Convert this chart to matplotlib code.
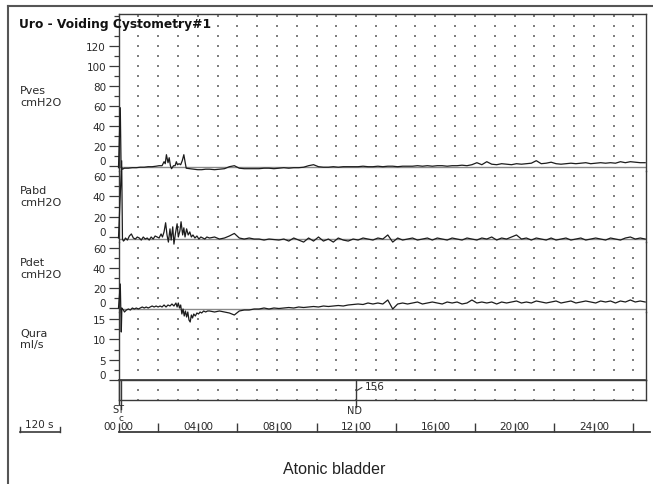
import matplotlib
matplotlib.use("Agg")
import matplotlib.pyplot as plt
import numpy as np
from matplotlib.lines import Line2D

# ---------------- data ----------------
title = "Uro - Voiding Cystometry#1"
caption = "Atonic bladder"
channel_names = ["Pves", "Pabd", "Pdet", "Qura"]
channel_units = ["cmH2O", "cmH2O", "cmH2O", "ml/s"]

pves_ticks = [0, 20, 40, 60, 80, 100, 120]
pabd_ticks = [0, 20, 40, 60]
pdet_ticks = [0, 20, 40, 60]
qura_ticks = [0, 5, 10, 15]

time_labels = ["00:00", "04:00", "08:00", "12:00", "16:00", "20:00", "24:00"]
time_label_minutes = [0, 4, 8, 12, 16, 20, 24]

# Pves (cmH2O), early part (explicit times, minutes)
pves_t_early = [0.00, 0.09, 0.13, 0.2, 0.3, 0.5, 0.7, 0.9, 1.1, 1.3, 1.5, 1.7, 1.9,
                2.05, 2.2, 2.3, 2.36, 2.42, 2.5, 2.56, 2.62, 2.68, 2.78, 2.86, 2.92,
                2.98, 3.06, 3.14, 3.22, 3.3, 3.36, 3.42, 3.6, 3.8, 4.0, 4.2, 4.4]
pves_v_early = [-2, 58, -1, -3.5, -2.5, -2.5, -2, -2, -1.5, -1.5, -1, -1, -0.5,
                0, 0, 4, 2, 11, 3, 8, 0, -3, 0, 0, 4,
                1, 2, 1, 5, 11, 4, -2.5, -3, -3.5, -4, -4, -3.5]
# Pves late part (every 0.25 min from 4.6 to 26.6)
pves_v_late = [-3.5, -4, -3.5, -3, -1, 0, -2.5, -3, -3, -3,
               -3, -2.5, -2.5, -3, -2.5, -2, -2.5, -2, -2, -1.5,
               0, 1, -1, -1.5, -1.5, -1, -1.5, -1, -1, -1,
               -1, -0.5, -1, -1, -0.5, -1, -0.5, -0.5, -1, -0.5,
               -0.5, -0.5, 0, -0.5, 0, -0.5, 0, 0, -0.5, 0,
               0, 0.5, 0, 1, 3, 1, 4, 1.5, 1, 2,
               1.5, 1, 2, 1.5, 2, 2.5, 5, 2, 2.5, 3.5,
               2, 1.5, 2, 2.5, 2, 2.5, 3, 2, 2.5, 3,
               2.5, 3, 2.5, 4, 3, 4, 3.5, 3, 3]

# Pabd (cmH2O)
pabd_t_early = [0.00, 0.16, 0.2, 0.25, 0.3, 0.35, 0.45, 0.55, 0.65, 0.75, 0.85, 0.95,
                1.05, 1.15, 1.25, 1.35, 1.45, 1.55, 1.65, 1.75, 1.85, 1.95, 2.05, 2.15,
                2.22, 2.3, 2.38, 2.45, 2.52, 2.6, 2.66, 2.74, 2.8, 2.88, 2.96, 3.02,
                3.1, 3.16, 3.24, 3.3, 3.36, 3.44, 3.52, 3.6, 3.68, 3.76, 3.86, 3.96,
                4.06, 4.16, 4.26, 4.36, 4.46]
pabd_v_early = [-1, 75, -2, -4, -3, -1, -3, 1, 3, -1, -2, 0,
                -1, -3, 0, -2, -1, -3, 0, -2, 1, 0, -1, 3,
                0, 5, 14, 2, -5, 8, -3, 10, -7, 4, 13, 0,
                6, 15, 2, 9, 0, 8, 2, 5, 0, 2, -1, 1,
                -2, 0, -1, -2, 0]
pabd_v_late = [-1, 0, -2, -1, 1, 3.5, -1, -2, -1, -2,
               -2, -3, -2, -2.5, -3, -2, -4, -1, -3, -5,
               -1, -4, 0, -4, -2, -5, -1, -3, -4, -2,
               -3, -1, -2, -3, -1, -2, 2, -5, -1, -3,
               -2, -1, -3, -2, -1, -3, -1, -2, -3, -1,
               -2, -3, -1, -2, -3, -1, -2, 0, -3, -1,
               -2, 0, 2, -2, -1, -3, -1, -2, -3, -1,
               -3, -2, -1, -3, -2, -1, -3, -2, -1, -2,
               -3, -1, -2, -3, -1, 0, -2, -1, -2]

# Pdet (cmH2O)
pdet_t_early = [0.00, 0.09, 0.14, 0.17, 0.2, 0.25, 0.3, 0.4, 0.5, 0.6, 0.7, 0.8, 0.9,
                1.0, 1.1, 1.2, 1.3, 1.4, 1.5, 1.6, 1.7, 1.8, 1.9, 2.0, 2.1, 2.2, 2.3,
                2.4, 2.5, 2.6, 2.7, 2.8, 2.9, 2.96, 3.02, 3.08, 3.14, 3.2, 3.26, 3.32,
                3.38, 3.44, 3.5, 3.56, 3.62, 3.68, 3.74, 3.8, 3.88, 3.96, 4.04, 4.12,
                4.2, 4.3, 4.4, 4.5]
pdet_v_early = [0, 24, -24, 0, -1, -2, -4, -2, -1, -2, 0, -1, 0,
                -1, 0, 1, 0, 1, 0, 1, 2, 1, 2, 1, 2, 1, 3,
                1, 3, 2, 4, 2, 5, 1, 5, 0, 3, -6, -1, -8,
                -3, -9, -4, -12, -14, -7, -10, -6, -8, -5, -6, -4,
                -5, -3, -4, -3]
pdet_v_late = [-3, -4, -3, -4, -5, -7, -3, -2, -2, -1,
               -1, 0, -1, 0, -0.5, 0, 0.5, 0, 1, 0.5,
               1, 1.5, 1, 2, 1.5, 2, 2.5, 2, 3, 3.5,
               4, 3.5, 5, 4, 5, 4, 8, -1, 4, 5,
               4, 5, 6, 4, 5, 6, 5, 4, 6, 5,
               6, 4, 5, 8, 5, 6, 5, 6, 4, 6,
               5, 6, 7, 5, 6, 5, 7, 6, 5, 6,
               7, 5, 6, 7, 5, 6, 7, 6, 5, 7,
               6, 7, 5, 7, 6, 8, 6, 7, 6]

# Qura (ml/s): flat at zero over the whole recording
qura_t = [0.0, 26.6]
qura_v = [0, 0]

# events
event_names = ["ST", "ND"]
event_times = [0.12, 12.0]
nd_value_label = "156"

# ---------------- layout helpers ----------------
W, H = 653, 485
fig = plt.figure(figsize=(W / 100, H / 100), dpi=100)
plt.rcParams["font.family"] = ["DejaVu Sans"]

def fx(x):
    return x / W

def fy(y):
    return 1 - y / H

X0, X1 = 118.5, 646
PX_PER_MIN = 19.8
XMAX = (X1 - X0) / PX_PER_MIN

TRACE = "#1c1c1c"
REF = "#8a8a8a"
SPINE = "#3a3a3a"
DOT = "#808080"
TXT = "#2a2a2a"

def make_axes(ytop, ybot, ylim):
    ax = fig.add_axes([fx(X0), fy(ybot), fx(X1) - fx(X0), (ybot - ytop) / H])
    ax.set_xlim(0, XMAX)
    ax.set_ylim(*ylim)
    ax.patch.set_alpha(0)
    for s in ax.spines.values():
        s.set_color(SPINE)
        s.set_linewidth(1.0)
    ax.spines["bottom"].set_visible(False)
    ax.spines["top"].set_visible(False)
    ax.set_xticks([])
    return ax

def style_y(ax, major, minor, fontsize=7.5):
    ax.set_yticks(major)
    ax.set_yticklabels([str(m) for m in major])
    ax.set_yticks(minor, minor=True)
    ax.tick_params(axis="y", which="major", direction="out", length=7, width=0.9,
                   color=SPINE, labelsize=fontsize, pad=2, labelcolor=TXT)
    ax.tick_params(axis="y", which="minor", direction="out", length=3.5, width=0.9,
                   color=SPINE)
    for lab in ax.get_yticklabels():
        if lab.get_text() == "0":
            lab.set_verticalalignment("bottom")

def dots(ax, rows):
    xs, ys = np.meshgrid(np.arange(1, 27), rows)
    ax.scatter(xs.ravel(), ys.ravel(), s=1.0, marker="s", color=DOT,
               linewidths=0, zorder=1, clip_on=False)

late_start, late_end = 4.6, 26.6

def late_t(vals):
    return np.linspace(late_start, late_end, len(vals))

# ---------------- Pves ----------------
ax_pves = make_axes(15, 172, (-(172 - 166.7), 166.7 - 15))
ax_pves.spines["top"].set_visible(True)
style_y(ax_pves, pves_ticks, [10, 30, 50, 70, 90, 110, 130, 140, 150])
dots(ax_pves, np.arange(10, 151, 10))
ax_pves.axhline(-1.6, color=REF, lw=1.0, zorder=2)
ax_pves.plot(list(pves_t_early) + list(late_t(pves_v_late)),
             list(pves_v_early) + list(pves_v_late),
             color=TRACE, lw=0.9, zorder=3, clip_on=False)

# ---------------- Pabd ----------------
s_abd = 61 / 60
ax_pabd = make_axes(172, 243, (-(243 - 238) / s_abd, (238 - 172) / s_abd))
style_y(ax_pabd, pabd_ticks, [10, 30, 50])
dots(ax_pabd, np.arange(10, 61, 10))
ax_pabd.axhline(-1.6, color=REF, lw=1.0, zorder=2)
ax_pabd.plot(list(pabd_t_early) + list(late_t(pabd_v_late)),
             list(pabd_v_early) + list(pabd_v_late),
             color=TRACE, lw=0.9, zorder=3, clip_on=False)

# ---------------- Pdet ----------------
ax_pdet = make_axes(243, 313, (-4, 66))
style_y(ax_pdet, pdet_ticks, [10, 30, 50])
dots(ax_pdet, np.arange(10, 61, 10))
ax_pdet.axhline(-1.0, color=REF, lw=1.0, zorder=2)
ax_pdet.plot(list(pdet_t_early) + list(late_t(pdet_v_late)),
             list(pdet_v_early) + list(pdet_v_late),
             color=TRACE, lw=0.9, zorder=3, clip_on=False)

# ---------------- Qura ----------------
s_q = 61 / 15
ax_qura = make_axes(313, 381, (0, (381 - 313) / s_q))
style_y(ax_qura, qura_ticks, [2.5, 7.5, 12.5])
dots(ax_qura, [2.5, 5, 7.5, 10, 12.5, 15])
ax_qura.plot(qura_t, qura_v, color=SPINE, lw=1.2, zorder=3, clip_on=False)

# ---------------- event channel ----------------
ax_ev = make_axes(381, 401, (0, 1))
ax_ev.spines["bottom"].set_visible(True)
ax_ev.spines["top"].set_visible(True)
ax_ev.set_yticks([])
dots(ax_ev, [0.0, 0.5])
# ST marker
ax_ev.plot([0, 0], [1, -0.2], color=SPINE, lw=1.0, clip_on=False)
ax_ev.plot([event_times[0], event_times[0]], [1, -0.45], color=SPINE, lw=1.0, clip_on=False)
ax_ev.annotate(event_names[0], xy=(event_times[0], 0), xycoords="data",
               xytext=(2.5, -6.2), textcoords="offset points", ha="right", va="center",
               fontsize=7, color=TXT, annotation_clip=False)
ax_ev.annotate("c", xy=(event_times[0], 0), xycoords="data",
               xytext=(0, -12.5), textcoords="offset points", ha="center", va="center",
               fontsize=6.5, color=TXT, annotation_clip=False)
# ND marker
ax_ev.plot([event_times[1], event_times[1]], [1, -0.35], color=SPINE, lw=1.0, clip_on=False)
ax_ev.annotate(event_names[1], xy=(event_times[1], 0), xycoords="data",
               xytext=(-1, -7.3), textcoords="offset points", ha="center", va="center",
               fontsize=7, color=TXT, annotation_clip=False)
ax_ev.annotate(nd_value_label, xy=(event_times[1] + 0.05, 0.48), xycoords="data",
               xytext=(5.5, 3.3), textcoords="offset points", ha="left", va="center",
               fontsize=7.5, color=TXT, annotation_clip=False,
               arrowprops=dict(arrowstyle="-", color=SPINE, lw=0.8,
                               shrinkA=0, shrinkB=0, relpos=(0, 0.5)))

# ---------------- time axis ----------------
ax_t = fig.add_axes([fx(X0), fy(433), fx(650) - fx(X0), 1 / H])
ax_t.set_xlim(0, (650 - X0) / PX_PER_MIN)
ax_t.set_ylim(0, 1)
ax_t.patch.set_alpha(0)
for k, s in ax_t.spines.items():
    s.set_visible(k == "bottom")
ax_t.spines["bottom"].set_color(SPINE)
ax_t.spines["bottom"].set_linewidth(1.3)
ax_t.set_yticks([])
ax_t.set_xticks(np.arange(0, 27, 2))
ax_t.set_xticklabels([])
ax_t.tick_params(axis="x", direction="in", length=6.5, width=1.0, color=SPINE)
for m, lab in zip(time_label_minutes, time_labels):
    left, right = lab.split(":")
    ax_t.annotate(left, xy=(m, 0), xycoords=("data", "axes fraction"),
                  xytext=(-1.2, 4.6), textcoords="offset points",
                  ha="right", va="center", fontsize=7.5, color=TXT, annotation_clip=False)
    ax_t.annotate(right, xy=(m, 0), xycoords=("data", "axes fraction"),
                  xytext=(1.6, 4.6), textcoords="offset points",
                  ha="left", va="center", fontsize=7.5, color=TXT, annotation_clip=False)

# ---------------- labels & decorations ----------------
def ftext(x, y, s, **kw):
    fig.text(fx(x), fy(y), s, **kw)

label_rows = [(90.5, 103), (191.5, 203), (263.5, 274.5), (334.5, 345)]
for name, unit, (y1, y2) in zip(channel_names, channel_units, label_rows):
    ftext(20, y1, name, fontsize=8, color=TXT, ha="left", va="center")
    ftext(20, y2, unit, fontsize=8, color=TXT, ha="left", va="center")

ftext(19, 24.5, title, fontsize=8.8, fontweight="bold", color="#111111",
      ha="left", va="center")

# 120 s scale bar
fig.add_artist(Line2D([fx(20), fx(60)], [fy(432.5), fy(432.5)], color=SPINE, lw=1.2,
                      transform=fig.transFigure))
for xx in (20, 60):
    fig.add_artist(Line2D([fx(xx), fx(xx)], [fy(432.5), fy(427.5)], color=SPINE, lw=1.0,
                          transform=fig.transFigure))
ftext(39, 425.5, "120 s", fontsize=7.5, color=TXT, ha="center", va="center")

# outer frame
fig.add_artist(Line2D([fx(8), fx(653)], [fy(7), fy(7)], color="#555555", lw=1.5,
                      transform=fig.transFigure))
fig.add_artist(Line2D([fx(8), fx(8)], [fy(7), fy(485)], color="#555555", lw=1.5,
                      transform=fig.transFigure))

ftext(334, 469.5, caption, fontsize=11.5, family="Liberation Sans", color="#222222",
      ha="center", va="center")

fig.savefig("out.png", dpi=100)
